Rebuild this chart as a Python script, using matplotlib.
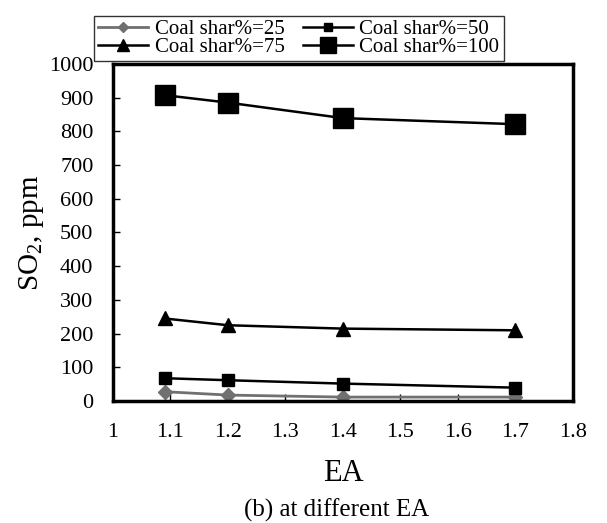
import matplotlib.pyplot as plt
import numpy as np

plt.rcParams['font.family'] = ['Liberation Serif', 'DejaVu Serif']
plt.rcParams['mathtext.fontset'] = 'custom'
plt.rcParams['mathtext.rm'] = 'Liberation Serif'

ea = [1.09, 1.2, 1.4, 1.7]
so2_25 = [28, 18, 12, 12]
so2_50 = [68, 62, 52, 40]
so2_75 = [245, 225, 215, 210]
so2_100 = [907, 885, 839, 821]

fig = plt.figure(figsize=(6.07, 5.23), dpi=100)
ax = fig.add_axes([0.186, 0.233, 0.758, 0.645])

l25, = ax.plot(ea, so2_25, color='#707070', marker='D', markersize=7, lw=2, label='Coal shar%=25')
l50, = ax.plot(ea, so2_50, color='black', marker='s', markersize=8, lw=1.8, label='Coal shar%=50')
l75, = ax.plot(ea, so2_75, color='black', marker='^', markersize=10, lw=1.8, label='Coal shar%=75')
l100, = ax.plot(ea, so2_100, color='black', marker='s', markersize=14, lw=1.8, label='Coal shar%=100')

ax.set_xlim(1, 1.8)
ax.set_ylim(0, 1000)
ax.set_xticks(np.arange(1, 1.81, 0.1))
ax.set_xticklabels(['1', '1.1', '1.2', '1.3', '1.4', '1.5', '1.6', '1.7', '1.8'])
ax.set_yticks(range(0, 1001, 100))
ax.tick_params(direction='in', labelsize=16, length=5, width=1)
ax.tick_params(axis='y', pad=14)
ax.tick_params(axis='x', pad=16)
for s in ax.spines.values():
    s.set_linewidth(2.5)

ax.set_ylabel('SO$_2$, ppm', fontsize=21, labelpad=2)
ax.set_xlabel('EA', fontsize=22, labelpad=12)
fig.text(0.555, 0.012, '(b) at different EA', ha='center', fontsize=18)

leg = fig.legend([l25, l75, l50, l100],
                 ['Coal shar%=25', 'Coal shar%=75', 'Coal shar%=50', 'Coal shar%=100'],
                 ncol=2, loc='upper left', bbox_to_anchor=(0.138, 0.99),
                 fontsize=15, frameon=True, fancybox=False, edgecolor='black',
                 handlelength=2.4, borderpad=0.2, labelspacing=-0.1, columnspacing=0.9,
                 handletextpad=0.3, markerscale=0.8)
leg.get_frame().set_linewidth(1)

plt.savefig('out.png', dpi=100)
